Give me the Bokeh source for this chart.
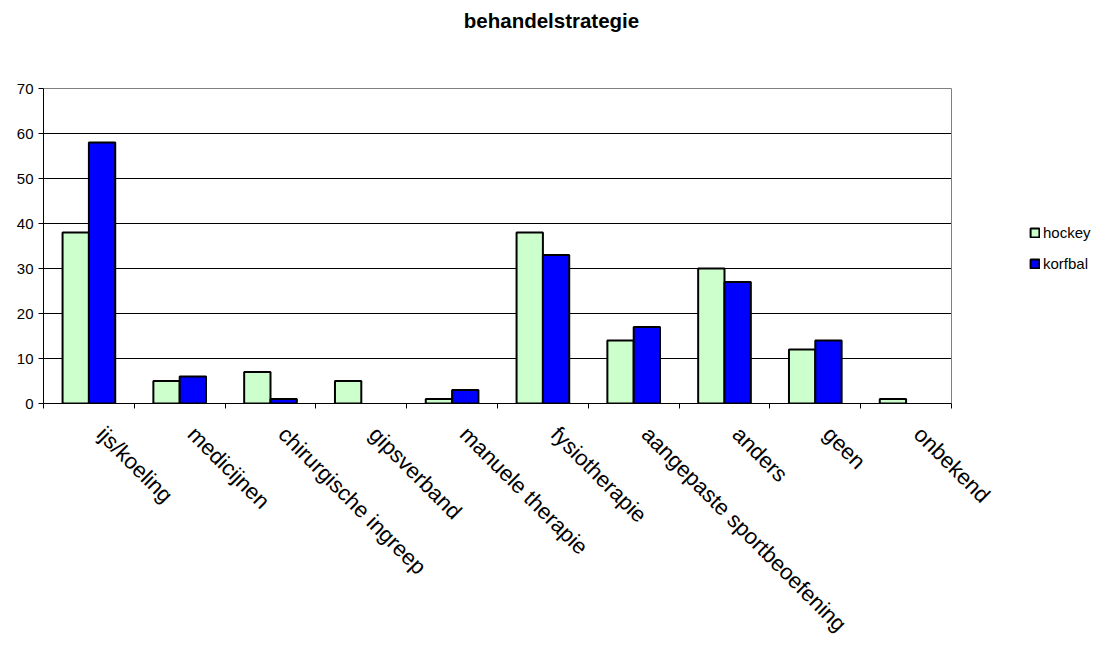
import math
from bokeh.plotting import figure
from bokeh.models import (ColumnDataSource, Range1d, FixedTicker, Legend, LegendItem,
                          Label)
from bokeh.embed import file_html
from bokeh.resources import INLINE

# ---- data ----
categories = ["ijs/koeling", "medicijnen", "chirurgische ingreep", "gipsverband",
              "manuele therapie", "fysiotherapie", "aangepaste sportbeoefening",
              "anders", "geen", "onbekend"]
hockey = [38, 5, 7, 5, 1, 38, 14, 30, 12, 1]
korfbal = [58, 6, 1, 0, 3, 33, 17, 27, 14, 0]
y_ticks = [0, 10, 20, 30, 40, 50, 60, 70]
title_text = "behandelstrategie"

FONT = "Liberation Sans"
BAR_W = 0.29
LABEL_SHIFT = 0.13

# ---- layout (pixels) ----
W, H = 1107, 648
PL, PR, PT, PB = 43, 951, 88, 403      # visible plot area
n = len(categories)
y_max = y_ticks[-1]
# frame spans from PL to right edge, and from top edge to PB
x_end = n * (W - PL) / (PR - PL)
y_end = y_max * PB / (PB - PT)

def series_source(vals, side):
    idx = [i for i, v in enumerate(vals) if v > 0]
    return ColumnDataSource(dict(
        x=[i + 0.5 + side * BAR_W / 2 for i in idx],
        top=[vals[i] for i in idx],
    ))

p = figure(width=W, height=H, output_backend="svg", toolbar_location=None,
           x_range=Range1d(0, x_end), y_range=Range1d(0, y_end),
           min_border_left=PL, min_border_right=0, min_border_top=0,
           min_border_bottom=H - PB)
p.background_fill_color = "white"
p.border_fill_color = "white"
p.outline_line_color = None
p.xgrid.visible = False
p.ygrid.visible = False

# horizontal gridlines (inner ticks) and gray plot border (top, right)
grid_y = y_ticks[1:-1]
p.segment(x0=[0] * len(grid_y), x1=[n] * len(grid_y), y0=grid_y, y1=grid_y,
          line_color="black", line_width=1)
p.segment(x0=[0, n], x1=[n, n], y0=[y_max, 0], y1=[y_max, y_max],
          line_color="#808080", line_width=1)

r_h = p.vbar(x="x", top="top", bottom=0, width=BAR_W, source=series_source(hockey, -1),
             fill_color="#CCFFCC", line_color="black", line_width=2)
r_k = p.vbar(x="x", top="top", bottom=0, width=BAR_W, source=series_source(korfbal, 1),
             fill_color="#0000FF", line_color="black", line_width=2)

# x axis: labels near centers, tick marks at boundaries (minor ticks)
xa = p.xaxis[0]
label_pos = [i + 0.5 + LABEL_SHIFT for i in range(n)]
xa.bounds = (0, n)
xa.ticker = FixedTicker(ticks=label_pos, minor_ticks=list(range(n + 1)))
xa.major_label_overrides = {pos: c for pos, c in zip(label_pos, categories)}
xa.major_tick_line_color = None
xa.minor_tick_line_color = "black"
xa.minor_tick_out = 5
xa.minor_tick_in = 0
xa.axis_line_color = "black"
xa.major_label_orientation = -math.pi / 4
xa.major_label_text_font = FONT
xa.major_label_text_font_size = "22px"
xa.major_label_text_color = "black"
xa.major_label_standoff = 21

ya = p.yaxis[0]
ya.bounds = (0, y_max)
ya.ticker = FixedTicker(ticks=y_ticks)
ya.axis_line_color = "black"
ya.major_tick_line_color = "black"
ya.major_tick_out = 5
ya.major_tick_in = 0
ya.minor_tick_line_color = None
ya.major_label_text_font = FONT
ya.major_label_text_font_size = "15px"
ya.major_label_text_color = "black"
ya.major_label_standoff = 5

legend = Legend(items=[LegendItem(label="hockey", renderers=[r_h]),
                       LegendItem(label="korfbal", renderers=[r_k])],
                location=(1029 - PL, 131), orientation="vertical",
                label_text_font=FONT, label_text_font_size="15px",
                label_text_color="black", glyph_width=11, glyph_height=11,
                label_standoff=3, spacing=14, padding=0, margin=0,
                border_line_color=None, background_fill_alpha=0)
p.add_layout(legend, "center")

title = Label(x=551 - PL, y=PB - 20, x_units="screen", y_units="screen",
              text=title_text, text_font=FONT, text_font_size="20.5px",
              text_font_style="bold", text_align="center", text_baseline="middle",
              text_color="black")
p.add_layout(title)

open("out.html", "w").write(file_html(p, INLINE))
